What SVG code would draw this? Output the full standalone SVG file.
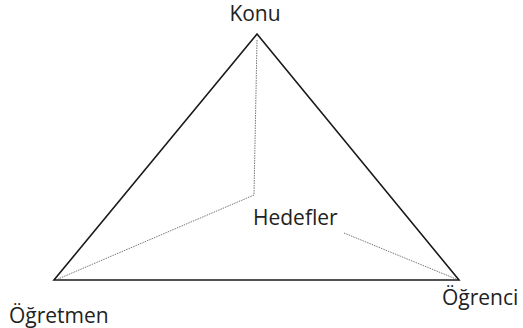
<svg xmlns="http://www.w3.org/2000/svg" width="523" height="328" viewBox="0 0 523 328">
<style>
.lbl{font-family:"Open Sans","Liberation Sans",sans-serif;font-size:21px;fill:#222}
.edge{stroke:#1a1a1a;stroke-width:1.6;fill:none}
.dot{stroke:#777;stroke-width:1;stroke-dasharray:1.5 1;fill:none}
</style>
<rect width="523" height="328" fill="#fff"/>
<g id="connectors">
<polygon class="edge" points="257,34 54,280 459,280"/>
<polyline class="dot" points="257,40 254,195 58,279"/>
<line class="dot" x1="344" y1="233" x2="456" y2="279"/>
</g>
<g id="konu"><text class="lbl" x="255" y="21" text-anchor="middle">Konu</text></g>
<g id="ogretmen"><text class="lbl" x="9" y="323">Öğretmen</text></g>
<g id="ogrenci"><text class="lbl" x="442" y="305">Öğrenci</text></g>
<g id="hedefler"><text class="lbl" x="253" y="225">Hedefler</text></g>
</svg>
